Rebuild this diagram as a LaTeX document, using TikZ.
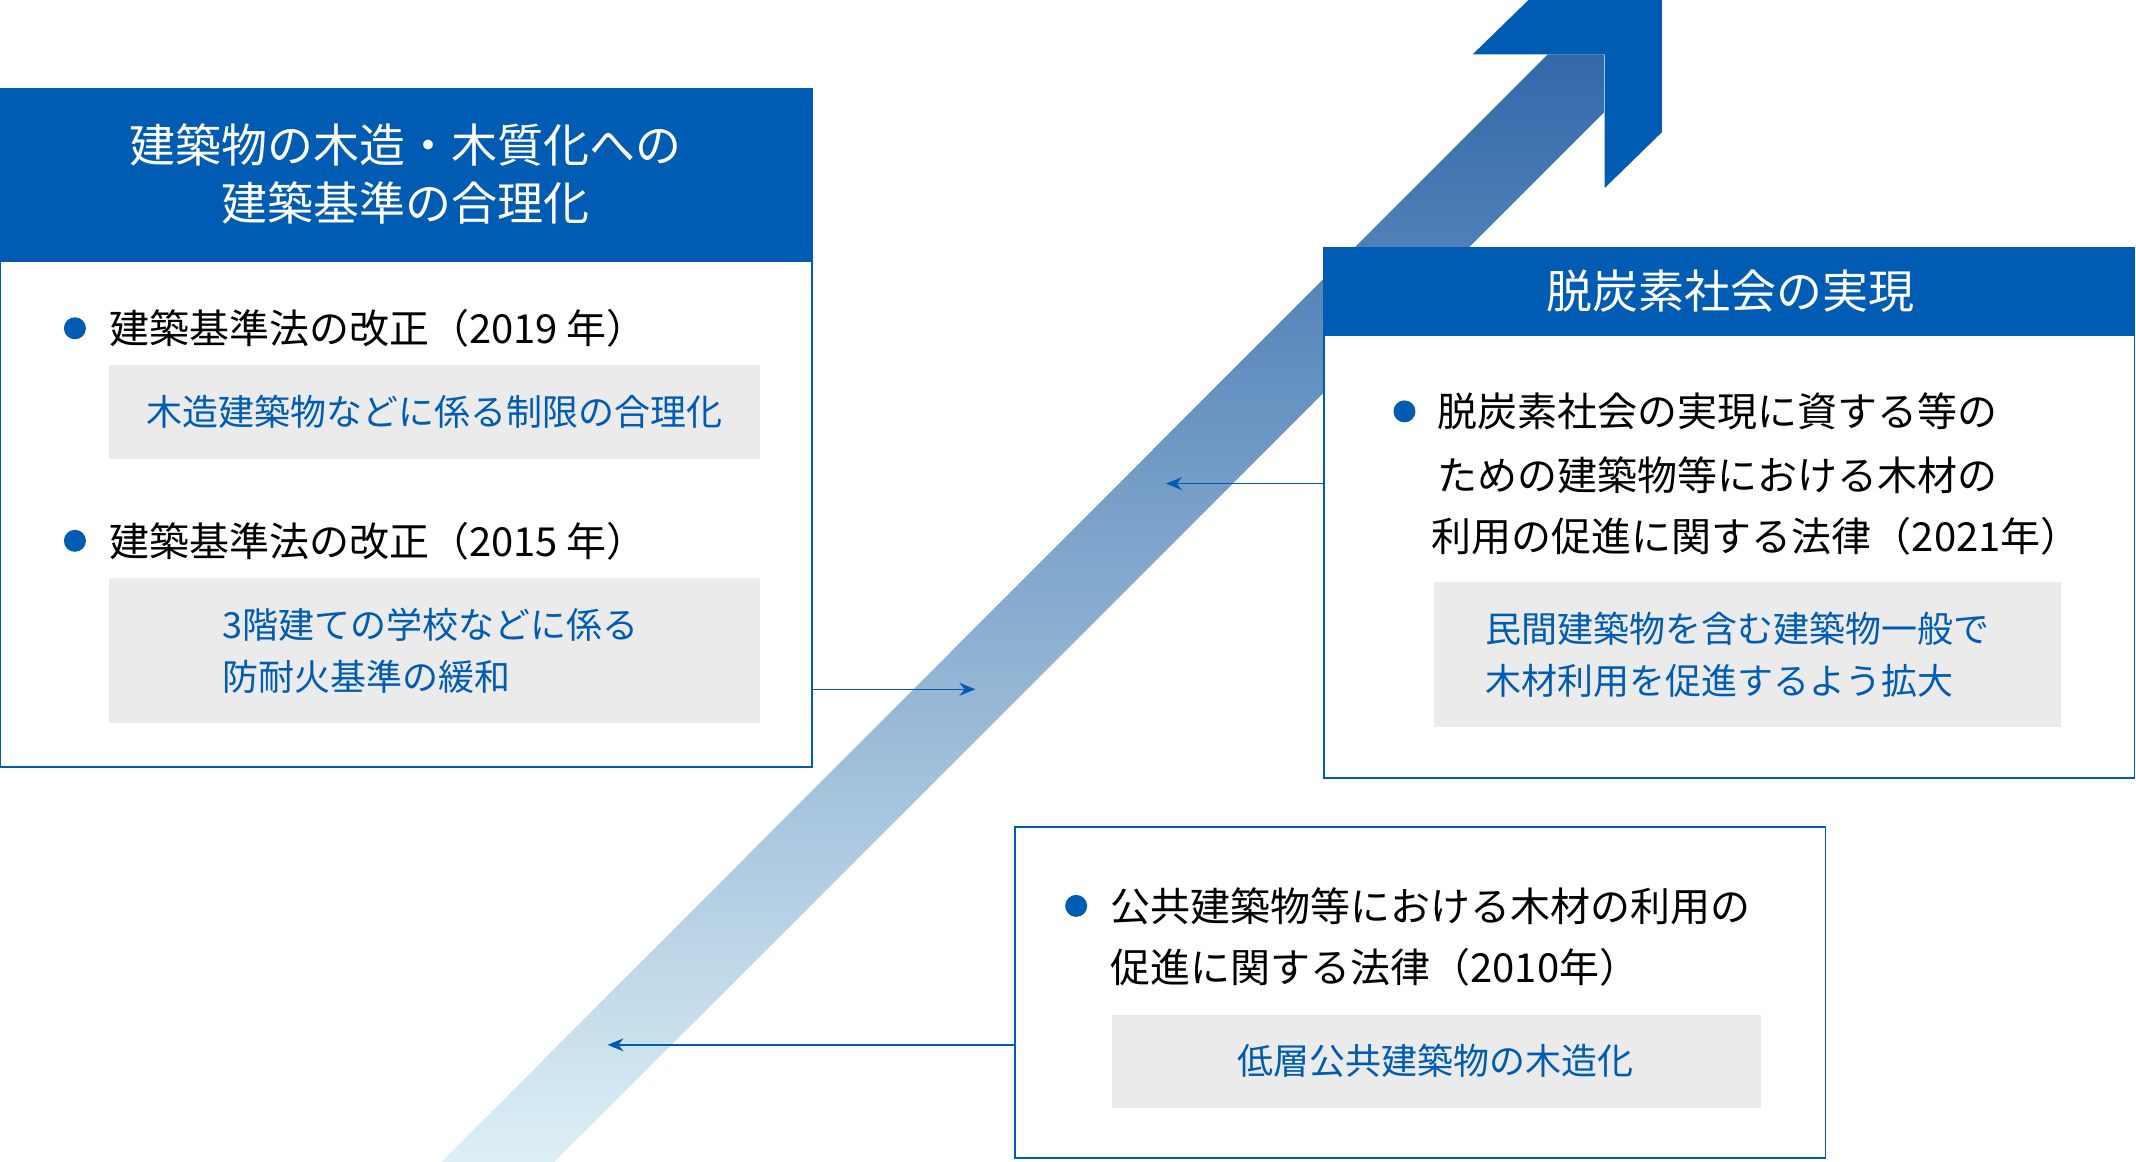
\documentclass[tikz,border=0pt]{standalone}
\usepackage{fontspec}
\setmainfont{Noto Sans CJK JP}
\usetikzlibrary{arrows.meta}
\definecolor{mblue}{RGB}{0,91,178}
\definecolor{mgray}{RGB}{235,235,235}
\definecolor{sb}{RGB}{221,240,245}
\definecolor{sm}{RGB}{69,185,232}
\definecolor{st}{RGB}{50,105,170}
\tikzset{
 frame/.style={draw=mblue,line width=1.4pt,fill=white},
 hdr/.style={fill=mblue,draw=mblue},
 gbox/.style={fill=mgray,draw=none},
 htxt/.style={text=white,font=\fontsize{46}{58}\selectfont,align=center},
 btxt/.style={text=black,font=\fontsize{40}{62}\selectfont,anchor=west,inner sep=0},
 gtxt/.style={text=mblue,font=\fontsize{36}{52}\selectfont,inner sep=0},
 dot/.style={circle,fill=mblue,minimum size=22pt,inner sep=0},
 conn/.style={draw=mblue,line width=1.4pt,-{Stealth[length=16pt,width=13pt]}}
}
\begin{document}
\begin{tikzpicture}[x=1.3622pt,y=-1.3622pt]
\useasboundingbox (0,0) rectangle (1568,853);
% big arrow shaft
\shade[top color=st,middle color=sm,bottom color=sb]
 (1136,40) -- (1178,40) -- (1178,82) -- (407,853) -- (324,853) -- cycle;
\fill[mblue] (1122,0) -- (1220,0) -- (1220,97) -- (1178,138) -- (1178,40) -- (1081,40) -- cycle;
% left box
\draw[frame] (0,65) rectangle (596,563);
\fill[hdr] (0,65) rectangle (596,192);
\node[htxt] (lh) at (298,128) {建築物の木造・木質化への\\建築基準の合理化};
\node[dot] (ld1) at (55,241) {};
\node[btxt] (lt1) at (80,241) {建築基準法の改正（2019 年）};
\fill[gbox] (80,268) rectangle (558,337);
\node[gtxt] (lg1) at (319,302) {木造建築物などに係る制限の合理化};
\node[dot] (ld2) at (55,397) {};
\node[btxt] (lt2) at (80,397) {建築基準法の改正（2015 年）};
\fill[gbox] (80,424) rectangle (558,531);
\node[gtxt,anchor=west,align=left] (lg2) at (163,478) {3階建ての学校などに係る\\防耐火基準の緩和};
\coordinate (la) at (596,506);
\coordinate (lb) at (716,506);
\draw[conn] (la) -- (lb);
% right box
\draw[frame] (972,182) rectangle (1567,571);
\fill[hdr] (972,182) rectangle (1567,246);
\node[htxt] (rh) at (1270,214) {脱炭素社会の実現};
\node[dot] (rd) at (1031,302) {};
\node[btxt] (rt1) at (1055,302) {脱炭素社会の実現に資する等の};
\node[btxt] (rt2) at (1055,349) {ための建築物等における木材の};
\node[btxt] (rt3) at (1051,394) {利用の促進に関する法律（2021年）};
\fill[gbox] (1053,427) rectangle (1513,534);
\node[gtxt,anchor=west,align=left] (rg) at (1090,481) {民間建築物を含む建築物一般で\\木材利用を促進するよう拡大};
\coordinate (ra) at (972,355);
\coordinate (rb) at (856,355);
\draw[conn] (ra) -- (rb);
% bottom box
\draw[frame] (745,607) rectangle (1340,850);
\node[dot] (bd) at (790,665) {};
\node[btxt] (bt1) at (815,665) {公共建築物等における木材の利用の};
\node[btxt] (bt2) at (815,710) {促進に関する法律（2010年）};
\fill[gbox] (816,745) rectangle (1293,813);
\node[gtxt] (bg) at (1054,779) {低層公共建築物の木造化};
\coordinate (ba) at (745,767);
\coordinate (bb) at (446,767);
\draw[conn] (ba) -- (bb);
\end{tikzpicture}
\end{document}
